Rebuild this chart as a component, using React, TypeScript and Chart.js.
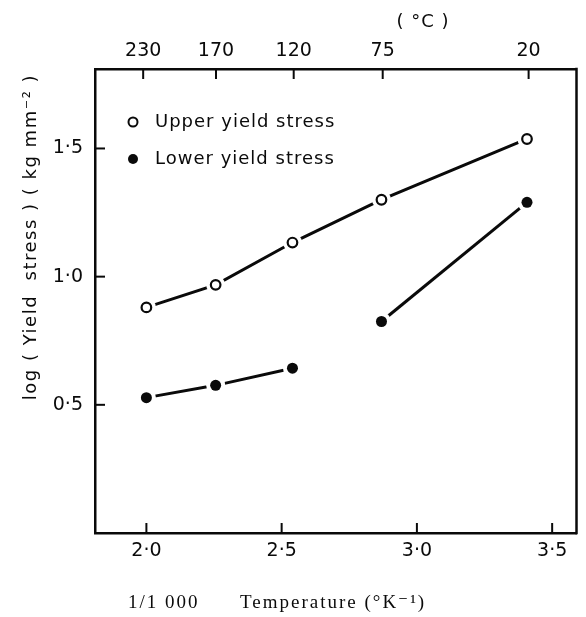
import { useEffect, useRef } from "react";
import { Chart, registerables } from "chart.js";

Chart.register(...registerables);

// ---- data ----
const celsiusLabels = [230, 170, 120, 75, 20];
const inverseTemp = [2.0, 2.256, 2.54, 2.869, 3.407]; // 1000/T (K^-1)
const upperYield = [0.88, 0.968, 1.133, 1.3, 1.537];
const lowerYield = [0.528, 0.576, 0.643, 0.825, 1.29];
const bottomTickValues = [2.0, 2.5, 3.0, 3.5];
const leftTickValues = [0.5, 1.0, 1.5];
const legendLabels = ["Upper yield stress", "Lower yield stress"];
const lowerBreakAfter = 2; // no line between 3rd and 4th lower points

const X_MIN = 1.81;
const X_MAX = 3.59;
const Y_MIN = 0;
const Y_MAX = 1.81;

const INK = "#0a0a0a";
const SANS = "'DejaVu Sans', sans-serif";
const SERIF = "'Liberation Serif', 'DejaVu Serif', serif";

const fmt = (v: number) => v.toFixed(1).replace(".", "\u00B7");
const celsiusToInv = (c: number) => 1000 / (c + 273);

const decorPlugin = {
  id: "decor",
  afterDraw(chart: any) {
    const { ctx, chartArea: a, scales } = chart;
    ctx.save();
    ctx.strokeStyle = INK;
    ctx.fillStyle = INK;
    ctx.lineWidth = 2.5;
    const seg = (x1: number, y1: number, x2: number, y2: number) => {
      ctx.beginPath();
      ctx.moveTo(x1, y1);
      ctx.lineTo(x2, y2);
      ctx.stroke();
    };
    // right frame line
    seg(a.right, a.top - 1.2, a.right, a.bottom + 1.2);
    // inward tick marks
    const T = 10;
    ctx.lineWidth = 2;
    bottomTickValues.forEach((v) => {
      const px = scales.x.getPixelForValue(v);
      seg(px, a.bottom, px, a.bottom - T);
    });
    celsiusLabels.forEach((c) => {
      const px = scales.x2.getPixelForValue(celsiusToInv(c));
      seg(px, a.top, px, a.top + T);
    });
    leftTickValues.forEach((v) => {
      const py = scales.y.getPixelForValue(v);
      seg(a.left, py, a.left + T, py);
    });

    // legend
    const lx = 133;
    const ly = [122, 159];
    ctx.lineWidth = 2;
    ctx.fillStyle = "#fff";
    ctx.beginPath();
    ctx.arc(lx, ly[0], 4.5, 0, Math.PI * 2);
    ctx.fill();
    ctx.stroke();
    ctx.fillStyle = INK;
    ctx.beginPath();
    ctx.arc(lx, ly[1], 5, 0, Math.PI * 2);
    ctx.fill();
    ctx.font = `18px ${SANS}`;
    (ctx as any).letterSpacing = "1px";
    ctx.textAlign = "left";
    ctx.textBaseline = "middle";
    ctx.fillText(legendLabels[0], 155, ly[0]);
    ctx.fillText(legendLabels[1], 155, ly[1]);

    // top unit label
    (ctx as any).letterSpacing = "1px";
    ctx.font = `18px ${SANS}`;
    ctx.textAlign = "center";
    ctx.fillText("( \u00B0C )", 423, 22);

    // y title
    ctx.save();
    ctx.translate(31, 237);
    ctx.rotate(-Math.PI / 2);
    (ctx as any).letterSpacing = "1.5px";
    ctx.font = `18px ${SANS}`;
    ctx.textAlign = "center";
    ctx.fillText("log ( Yield  stress ) ( kg mm\u207B\u00B2 )", 0, 0);
    ctx.restore();

    // bottom title
    (ctx as any).letterSpacing = "2px";
    ctx.font = `19px ${SERIF}`;
    ctx.textAlign = "left";
    ctx.fillText("1/1 000", 128, 603);
    ctx.fillText("Temperature (\u00B0K\u207B\u00B9)", 240, 603);
    (ctx as any).letterSpacing = "0px";
    ctx.restore();
  },
};

export default function App() {
  const ref = useRef<HTMLCanvasElement | null>(null);

  useEffect(() => {
    document.body.style.margin = "0";
    const canvas = ref.current;
    if (!canvas) return;

    const upperPts = inverseTemp.map((x, i) => ({ x, y: upperYield[i] }));
    const lowerPts = inverseTemp.map((x, i) => ({ x, y: lowerYield[i] }));

    const chart = new Chart(canvas, {
      type: "scatter",
      data: {
        datasets: [
          {
            data: upperPts,
            showLine: true,
            borderColor: INK,
            borderWidth: 3,
            pointRadius: 0,
            order: 5,
          },
          {
            data: lowerPts,
            showLine: true,
            borderColor: INK,
            borderWidth: 3,
            pointRadius: 0,
            segment: {
              borderColor: (c: any) =>
                c.p0DataIndex === lowerBreakAfter ? "rgba(0,0,0,0)" : INK,
            },
            order: 4,
          },
          {
            data: [...upperPts, ...lowerPts],
            showLine: false,
            pointRadius: 9.5,
            pointBorderWidth: 0,
            pointBackgroundColor: "#fff",
            pointBorderColor: "#fff",
            order: 3,
          },
          {
            data: upperPts,
            showLine: false,
            pointRadius: 4.8,
            pointBorderWidth: 2.2,
            pointBackgroundColor: "#fff",
            pointBorderColor: INK,
            order: 2,
          },
          {
            data: lowerPts,
            showLine: false,
            pointRadius: 5.5,
            pointBorderWidth: 0,
            pointBackgroundColor: INK,
            pointBorderColor: INK,
            order: 1,
          },
        ] as any,
      },
      options: {
        animation: false,
        responsive: false,
        events: [],
        layout: { padding: { top: 0, left: 0, right: 5, bottom: 0 } },
        plugins: {
          legend: { display: false },
          tooltip: { enabled: false },
        },
        scales: {
          x: {
            type: "linear",
            position: "bottom",
            min: X_MIN,
            max: X_MAX,
            grid: { display: false, drawTicks: false },
            border: { display: true, color: INK, width: 2.5 },
            afterBuildTicks: (s: any) => {
              s.ticks = bottomTickValues.map((value) => ({ value }));
            },
            afterFit: (s: any) => {
              s.height = 84;
            },
            ticks: {
              color: INK,
              padding: 7,
              font: { family: SANS, size: 19 },
              callback: (v: any) => fmt(Number(v)),
            },
          },
          x2: {
            type: "linear",
            position: "top",
            min: X_MIN,
            max: X_MAX,
            grid: { display: false, drawTicks: false },
            border: { display: true, color: INK, width: 2.5 },
            afterBuildTicks: (s: any) => {
              s.ticks = celsiusLabels.map((c) => ({ value: celsiusToInv(c) }));
            },
            afterFit: (s: any) => {
              s.height = 69;
            },
            ticks: {
              color: INK,
              padding: 7,
              font: { family: SANS, size: 19 },
              callback: (_v: any, i: number) => String(celsiusLabels[i]),
            },
          },
          y: {
            type: "linear",
            position: "left",
            min: Y_MIN,
            max: Y_MAX,
            grid: { display: false, drawTicks: false },
            border: { display: true, color: INK, width: 2.5 },
            afterBuildTicks: (s: any) => {
              s.ticks = leftTickValues.map((value) => ({ value }));
            },
            afterFit: (s: any) => {
              s.width = 95;
            },
            ticks: {
              color: INK,
              padding: 12,
              font: { family: SANS, size: 19 },
              callback: (v: any) => fmt(Number(v)),
            },
          },
        },
      } as any,
      plugins: [decorPlugin],
    });

    return () => chart.destroy();
  }, []);

  return (
    <div style={{ width: 586, height: 617, background: "#fff" }}>
      <canvas ref={ref} width={586} height={617} style={{ display: "block" }} />
    </div>
  );
}
